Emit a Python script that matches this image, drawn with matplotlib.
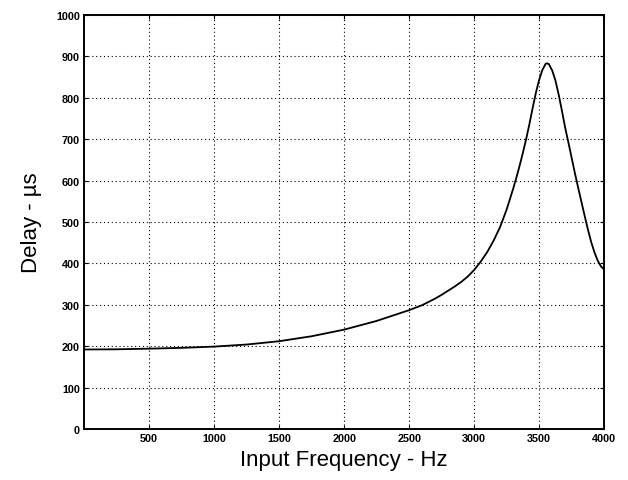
import matplotlib

matplotlib.use("Agg")

import matplotlib.pyplot as plt

# delay curve (Hz, microseconds)
freq_hz = [0, 250, 500, 750, 1000, 1250, 1500, 1750, 2000, 2250, 2500,
           2600, 2700, 2750, 2800, 2850, 2900, 2950, 3000, 3050, 3100,
           3150, 3200, 3250, 3300, 3325, 3350, 3375, 3400, 3425, 3450,
           3475, 3500, 3525, 3550, 3562, 3575, 3600, 3625, 3650, 3675,
           3700, 3725, 3750, 3775, 3800, 3825, 3850, 3875, 3900, 3925,
           3950, 3975, 4000]
delay_us = [192, 192.5, 194, 196, 199, 204, 212, 224, 240, 261, 287,
            299, 315, 324, 334, 344, 355, 368, 384, 404, 427,
            455, 488, 530, 580, 607, 636, 667, 700, 736, 775,
            812, 843, 867, 882, 883, 881, 866, 842, 808, 769,
            728, 692, 655, 618, 583, 549, 515, 482, 452, 427,
            407, 393, 385]

x_ticks = [500, 1000, 1500, 2000, 2500, 3000, 3500, 4000]
y_ticks = [0, 100, 200, 300, 400, 500, 600, 700, 800, 900, 1000]

FONT = "Liberation Sans"

fig = plt.figure(figsize=(6.28, 4.81), dpi=100)
ax = fig.add_axes([0.134, 0.106, 0.828, 0.861])

ax.plot(freq_hz, delay_us, color="black", linewidth=1.3, zorder=3)

ax.set_xlim(0, 4000)
ax.set_ylim(0, 1000)
ax.set_xticks(x_ticks)
ax.set_yticks(y_ticks)
ax.set_xticklabels([str(v) for v in x_ticks], fontfamily=FONT,
                   fontweight="bold", fontsize=7.8)
ax.set_yticklabels([str(v) for v in y_ticks], fontfamily=FONT,
                   fontweight="bold", fontsize=7.8)

ax.grid(True, color="black", linewidth=0.8, linestyle=(0, (1, 2.5)))
ax.tick_params(direction="in", top=True, right=True, length=3,
               width=0.8, pad=3)
for sp in ax.spines.values():
    sp.set_linewidth(1.4)

ax.set_xlabel("Input Frequency - Hz", fontfamily=FONT, fontsize=16,
              labelpad=4)
ax.set_ylabel("Delay - µs", fontfamily=FONT, fontsize=16, labelpad=10)

fig.savefig("out.png", dpi=100, facecolor="white")
